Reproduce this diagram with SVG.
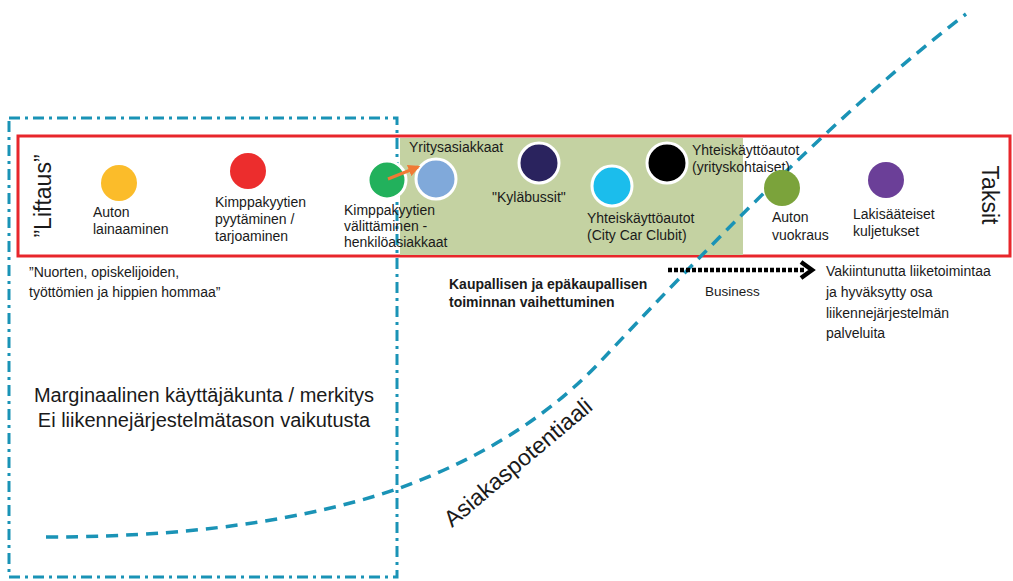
<svg xmlns="http://www.w3.org/2000/svg" width="1013" height="581" viewBox="0 0 1013 581">
<defs>
<style>
text{font-family:"Liberation Sans",Arial,sans-serif;fill:#1a1a1a;font-size:14px}
.big{font-size:20px}
.side{font-size:23px}
.bold{font-weight:bold}
.dot{stroke:#fff;stroke-width:3}
.blue{fill:none;stroke:#1a93b6;stroke-width:3.5}
</style>
<marker id="oa" viewBox="0 0 10 10" refX="8" refY="5" markerWidth="4" markerHeight="4" orient="auto"><path d="M0,0 L10,5 L0,10 z" fill="#f07a35"/></marker>
</defs>
<rect width="1013" height="581" fill="#fff"/>
<g id="band">
<rect x="18" y="136" width="992" height="120" fill="none" stroke="#e8262b" stroke-width="3"/>
<rect x="400" y="138" width="343" height="117" fill="#c4d2a2"/>
</g>
<g id="marginal-box">
<rect x="9" y="118" width="388" height="459" fill="none" stroke="#1a93b6" stroke-width="3" stroke-dasharray="11 5 3 5"/>
</g>
<g id="potential-curve">
<path class="blue" stroke-dasharray="12 8" d="M46,537 C220,537 330,512 400,488 C470,462 540,425 600,362 C700,255 840,110 966,14"/>
</g>
<g id="liftaus"><text class="side" transform="translate(51,196) rotate(-90)" text-anchor="middle">”Liftaus”</text></g>
<g id="taksit"><text class="side" transform="translate(982,195) rotate(90)" text-anchor="middle">Taksit</text></g>
<g id="auton-lainaaminen">
<circle cx="119" cy="183" r="18" fill="#fbbc2a"/>
<text x="93" y="217">Auton</text><text x="93" y="234">lainaaminen</text>
</g>
<g id="kimppa-pyytaminen">
<circle cx="248" cy="171" r="18" fill="#ec2d2d"/>
<text x="215" y="207">Kimppakyytien</text><text x="215" y="224">pyytäminen /</text><text x="215" y="241">tarjoaminen</text>
</g>
<g id="kimppa-valittaminen">
<circle cx="387" cy="180" r="19" fill="#22b15c" class="dot"/>
<text x="344" y="215">Kimppakyytien</text><text x="344" y="231">välittäminen -</text><text x="344" y="247">henkilöasiakkaat</text>
</g>
<g id="yritysasiakkaat">
<circle cx="436" cy="179" r="20" fill="#80a9da" class="dot"/>
<text x="409" y="152">Yritysasiakkaat</text>
</g>
<g id="kylabussit">
<circle cx="539" cy="163" r="20" fill="#2a235e" class="dot"/>
<text x="492" y="202">"Kyläbussit"</text>
</g>
<g id="city-car">
<circle cx="612" cy="186" r="20" fill="#1bbdec" class="dot"/>
<text x="587" y="223">Yhteiskäyttöautot</text><text x="587" y="240">(City Car Clubit)</text>
</g>
<g id="yrityskohtaiset">
<circle cx="667" cy="163" r="20" fill="#000" class="dot"/>
<text x="692" y="155">Yhteiskäyttöautot</text><text x="692" y="172">(yrityskohtaiset)</text>
</g>
<g id="auton-vuokraus">
<circle cx="782" cy="188" r="18" fill="#7ba33b"/>
<text x="772" y="222">Auton</text><text x="772" y="240">vuokraus</text>
</g>
<g id="lakisaateiset">
<circle cx="886" cy="180" r="18" fill="#6b3f98"/>
<text x="853" y="219">Lakisääteiset</text><text x="853" y="236">kuljetukset</text>
</g>
<g id="connectors">
<line x1="388" y1="179" x2="418" y2="167" stroke="#f07a35" stroke-width="3" marker-end="url(#oa)"/>
<line x1="668" y1="270" x2="806" y2="270" stroke="#000" stroke-width="4.5" stroke-dasharray="4 2"/>
<path d="M801,262 L812,270 L801,278" fill="none" stroke="#000" stroke-width="4.5"/>
</g>
<g id="notes">
<text x="29" y="277">”Nuorten, opiskelijoiden,</text>
<text x="29" y="297">työttömien ja hippien hommaa”</text>
<text class="big" x="204" y="402" text-anchor="middle">Marginaalinen käyttäjäkunta / merkitys</text>
<text class="big" x="204" y="427" text-anchor="middle">Ei liikennejärjestelmätason vaikutusta</text>
<text class="bold" x="449" y="289">Kaupallisen ja epäkaupallisen</text>
<text class="bold" x="449" y="307">toiminnan vaihettuminen</text>
<text x="705" y="296" style="font-size:13.5px">Business</text>
<text x="826" y="276">Vakiintunutta liiketoimintaa</text>
<text x="826" y="297">ja hyväksytty osa</text>
<text x="826" y="318">liikennejärjestelmän</text>
<text x="826" y="338">palveluita</text>
<text transform="translate(452,528) rotate(-40)" style="font-size:23px">Asiakaspotentiaali</text>
</g>
</svg>
